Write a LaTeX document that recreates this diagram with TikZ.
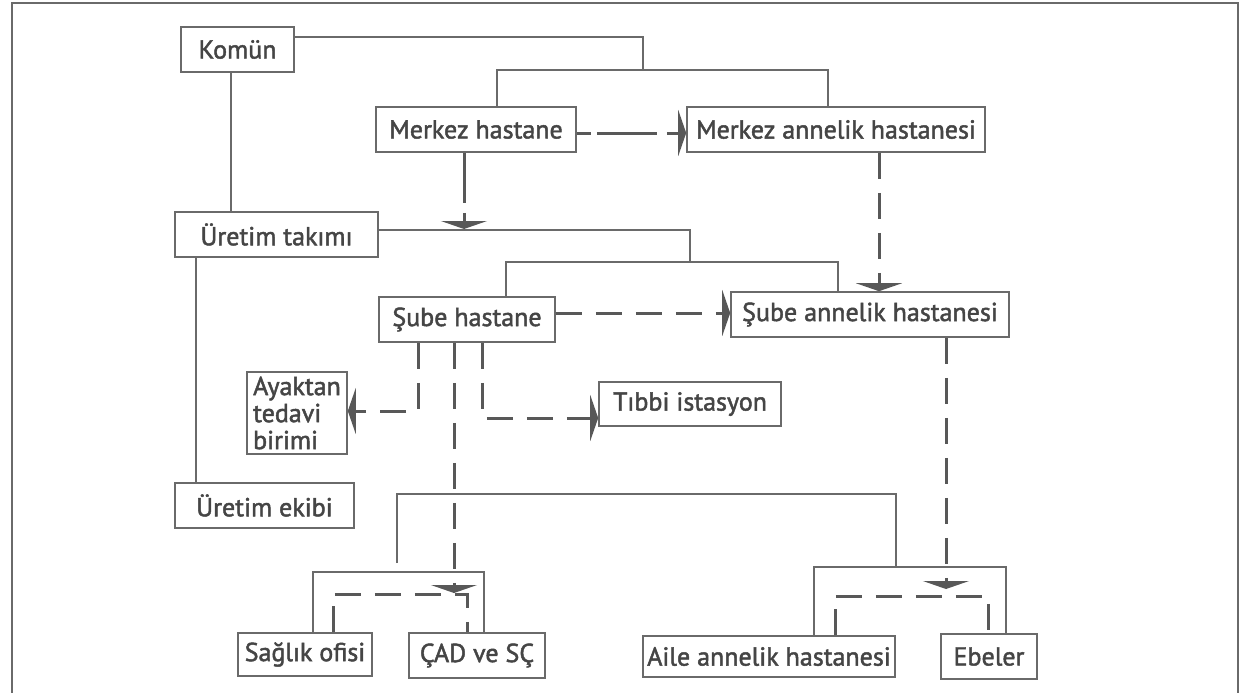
\documentclass[tikz,border=0pt]{standalone}
\usepackage{fontspec}
\setmainfont{PT Sans}[FakeBold=1.8]
\usetikzlibrary{arrows.meta}
\definecolor{ln}{HTML}{6A6A6A}
\definecolor{dl}{HTML}{585858}
\definecolor{tx}{HTML}{454545}
\newcommand{\Bx}[6]{\node[box, minimum width={(#4-#2)*0.5pt}, minimum height={(#5-#3)*0.5pt}] (#1) at ({(#2+#4)/2},{(#3+#5)/2}) {#6};}
\tikzset{
  box/.style={draw=ln, line width=0.8pt, inner sep=0pt, text=tx, font=\fontsize{13}{14}\selectfont, align=center},
  conn/.style={draw=ln, line width=0.7pt},
  dsh/.style={draw=dl, line width=1.5pt, dash pattern=on 13pt off 7pt},
  tip/.style={-{Triangle[length=4pt, width=23pt, fill=dl]}},
}
\begin{document}
\begin{tikzpicture}[x=0.5pt,y=-0.5pt]
\useasboundingbox (0,0) rectangle (1248,692);
\draw[draw=ln, line width=1.1pt] (12,700) -- (12,3) -- (1238,3) -- (1238,700);

\Bx{komun}{181}{27}{294}{72}{Komün}
\Bx{mh}{376}{107}{576}{152}{Merkez hastane}
\Bx{mah}{687}{107}{985}{152}{Merkez annelik hastanesi}
\Bx{ut}{175}{212}{378}{257}{Üretim takımı}
\Bx{sh}{379}{297}{555}{342}{Şube hastane}
\Bx{sah}{731}{292}{1009}{337}{Şube annelik hastanesi}
\node[box, minimum width=50pt, minimum height=41pt, align=left, inner xsep=2pt, font=\fontsize{13}{13.5}\selectfont] (ayk) at (297,413) {Ayaktan\\tedavi\\birimi};
\Bx{tibbi}{599}{382}{781}{426}{Tıbbi istasyon}
\Bx{ue}{175}{483}{354}{528}{Üretim ekibi}
\Bx{so}{238}{633}{372}{676}{Sağlık ofisi}
\Bx{cad}{409}{633}{545}{678}{ÇAD ve SÇ}
\Bx{aah}{643}{636}{895}{677}{Aile annelik hastanesi}
\Bx{eb}{941}{634}{1037}{679}{Ebeler}

% solid connectors
\draw[conn] (komun.east |- 0,37) -- (643,37) -- (643,70);
\draw[conn] (mh.north -| 497,0) -- (497,70) -- (828,70) -- (mah.north -| 828,0);
\draw[conn] (komun.south -| 231,0) -- (ut.north -| 231,0);
\draw[conn] (ut.east |- 0,230) -- (690,230) -- (690,262);
\draw[conn] (sh.north -| 506,0) -- (506,262) -- (838,262) -- (sah.north -| 838,0);
\draw[conn] (ut.south -| 196,0) -- (ue.north -| 196,0);
\coordinate (free) at (397,563);
\draw[conn] (free) -- (397,494) -- (896,494) -- (896,567);
\draw[conn] (so.north -| 313,0) -- (313,572) -- (484,572) -- (cad.north -| 484,0);
\draw[conn] (aah.north -| 814,0) -- (814,567) -- (1006,567) -- (eb.north -| 1006,0);

% dashed connectors
\draw[dsh, tip, dash pattern=on 7pt off 3pt on 30pt off 5pt on 9pt] (mh.east |- 0,133) -- (mah.west |- 0,133);
\coordinate (t1) at (464,229);
\draw[dsh, tip, dash pattern=on 25pt off 5pt] (mh.south -| 464,0) -- (t1);
\draw[dsh, tip] (mah.south -| 879,0) -- (sah.north -| 879,0);
\draw[dsh, tip] (sh.east |- 0,313) -- (sah.west |- 0,313);
\draw[dsh, tip] (sh.south -| 418,0) -- (418,411) -- (ayk.east |- 0,411);
\draw[dsh, tip] (sh.south -| 482,0) -- (482,418) -- (tibbi.west |- 0,418);
\coordinate (t2) at (454,593);
\draw[dsh, tip] (sh.south -| 454,0) -- (t2);
\coordinate (t3) at (946,589);
\draw[dsh, tip] (sah.south -| 946,0) -- (t3);
\draw[dsh] (so.north -| 333,0) -- (333,594) -- (467,594) -- (cad.north -| 467,0);
\draw[dsh] (aah.north -| 835,0) -- (835,596) -- (988,596) -- (eb.north -| 988,0);
\end{tikzpicture}
\end{document}
